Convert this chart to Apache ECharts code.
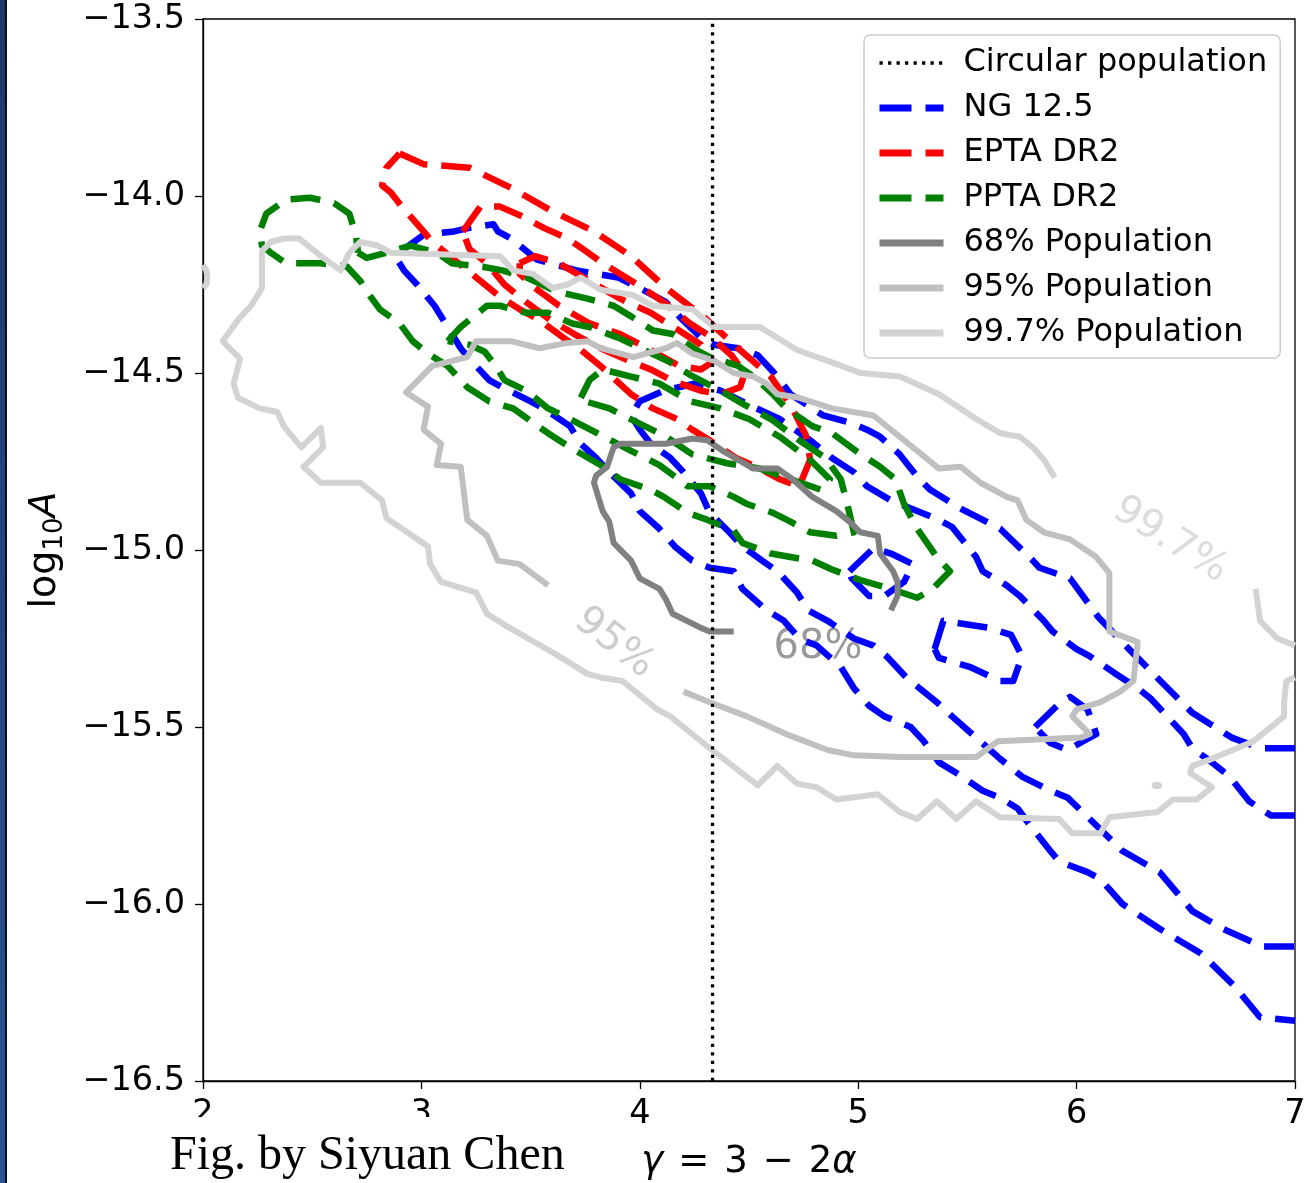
<!DOCTYPE html>
<html><head><meta charset="utf-8">
<script src="https://cdn.jsdelivr.net/npm/echarts@6/dist/echarts.min.js"></script>
<style>html,body{margin:0;padding:0;background:#fff}#chart{width:1306px;height:1183px}</style>
</head><body><div id="chart"></div>
<script>
// ---------- data (gamma, log10 A) ----------
const circularGamma = 4.333;

const ngOuter = [[7.00,-15.56],[6.84,-15.56],[6.71,-15.53],[6.53,-15.46],[6.40,-15.38],[6.24,-15.28],[6.10,-15.19],[5.97,-15.08],[5.83,-15.05],[5.80,-15.03],[5.65,-14.94],[5.46,-14.88],[5.33,-14.83],[5.28,-14.80],[5.19,-14.73],[5.10,-14.68],[5.04,-14.66],[4.96,-14.64],[4.84,-14.62],[4.79,-14.60],[4.69,-14.56],[4.63,-14.51],[4.54,-14.45],[4.45,-14.43],[4.34,-14.42],[4.28,-14.40],[4.18,-14.34],[4.12,-14.30],[4.03,-14.27],[3.90,-14.23],[3.80,-14.22],[3.71,-14.21],[3.59,-14.19],[3.53,-14.18],[3.41,-14.12],[3.35,-14.10],[3.33,-14.08],[3.22,-14.09],[3.15,-14.10],[3.01,-14.11],[2.92,-14.15],[2.89,-14.18],[2.92,-14.21],[2.98,-14.25],[3.06,-14.31],[3.10,-14.35],[3.18,-14.43],[3.22,-14.46],[3.31,-14.52],[3.37,-14.54],[3.50,-14.58],[3.56,-14.60],[3.68,-14.65],[3.73,-14.70],[3.80,-14.74],[3.86,-14.78],[3.96,-14.84],[4.00,-14.89],[4.09,-14.94],[4.16,-14.99],[4.24,-15.03],[4.32,-15.05],[4.43,-15.06],[4.47,-15.11],[4.58,-15.17],[4.66,-15.20],[4.73,-15.25],[4.81,-15.27],[4.92,-15.33],[4.98,-15.39],[5.05,-15.44],[5.12,-15.47],[5.24,-15.50],[5.30,-15.54],[5.37,-15.60],[5.45,-15.63],[5.57,-15.68],[5.65,-15.70],[5.73,-15.73],[5.79,-15.78],[5.88,-15.85],[5.92,-15.88],[6.05,-15.91],[6.11,-15.93],[6.21,-16.00],[6.38,-16.07],[6.57,-16.14],[6.72,-16.23],[6.84,-16.32],[7.00,-16.33]];
const ngInner = [[7.00,-15.75],[6.89,-15.75],[6.79,-15.71],[6.70,-15.64],[6.62,-15.60],[6.53,-15.56],[6.49,-15.52],[6.40,-15.46],[6.34,-15.42],[6.28,-15.39],[6.18,-15.35],[6.06,-15.30],[6.00,-15.28],[5.89,-15.23],[5.85,-15.20],[5.74,-15.13],[5.68,-15.10],[5.57,-15.06],[5.54,-15.02],[5.43,-14.935],[5.37,-14.915],[5.27,-14.89],[5.15,-14.86],[5.04,-14.82],[4.98,-14.78],[4.88,-14.74],[4.78,-14.69],[4.64,-14.63],[4.50,-14.59],[4.37,-14.55],[4.25,-14.53],[4.11,-14.55],[4.00,-14.58],[3.96,-14.62],[4.00,-14.66],[4.05,-14.70],[4.14,-14.74],[4.20,-14.78],[4.28,-14.84],[4.32,-14.895],[4.41,-14.95],[4.47,-14.99],[4.56,-15.03],[4.63,-15.06],[4.72,-15.12],[4.77,-15.17],[4.86,-15.20],[4.98,-15.25],[5.07,-15.27],[5.13,-15.30],[5.22,-15.36],[5.36,-15.43],[5.43,-15.47],[5.54,-15.53],[5.65,-15.59],[5.75,-15.64],[5.88,-15.68],[5.96,-15.70],[6.06,-15.76],[6.21,-15.85],[6.38,-15.91],[6.53,-16.02],[6.67,-16.07],[6.85,-16.12],[7.00,-16.12]];
const ngIslandA = [[4.96,-15.06],[5.07,-14.995],[5.15,-15.01],[5.25,-15.04],[5.21,-15.09],[5.12,-15.13],[5.05,-15.13],[4.97,-15.08]];
const ngIslandB = [[5.35,-15.28],[5.39,-15.20],[5.60,-15.22],[5.70,-15.24],[5.75,-15.30],[5.71,-15.37],[5.65,-15.37],[5.51,-15.33],[5.37,-15.305]];
const ngIslandC = [[5.81,-15.50],[5.91,-15.44],[5.97,-15.415],[6.05,-15.45],[6.09,-15.52],[6.03,-15.54],[5.96,-15.565],[5.88,-15.545]];

const eptaOuter = [[2.90,-13.88],[3.01,-13.91],[3.22,-13.92],[3.42,-13.98],[3.59,-14.04],[3.79,-14.10],[3.96,-14.17],[4.12,-14.26],[4.29,-14.34],[4.45,-14.43],[4.60,-14.51],[4.69,-14.59],[4.76,-14.675],[4.78,-14.745],[4.73,-14.82],[4.64,-14.80],[4.55,-14.77],[4.44,-14.74],[4.32,-14.69],[4.24,-14.66],[4.17,-14.63],[4.06,-14.60],[3.96,-14.56],[3.82,-14.48],[3.73,-14.435],[3.65,-14.40],[3.54,-14.35],[3.45,-14.32],[3.36,-14.285],[3.31,-14.26],[3.21,-14.21],[3.13,-14.17],[3.05,-14.13],[3.01,-14.10],[2.91,-14.03],[2.86,-13.99],[2.82,-13.97],[2.84,-13.92]];
const eptaMiddle = [[3.19,-14.10],[3.27,-14.03],[3.36,-14.03],[3.47,-14.06],[3.56,-14.09],[3.67,-14.12],[3.74,-14.15],[3.83,-14.19],[3.99,-14.25],[4.11,-14.30],[4.23,-14.36],[4.33,-14.40],[4.42,-14.45],[4.48,-14.50],[4.46,-14.54],[4.37,-14.56],[4.28,-14.55],[4.16,-14.525],[4.05,-14.49],[3.93,-14.46],[3.82,-14.43],[3.70,-14.39],[3.59,-14.35],[3.48,-14.30],[3.38,-14.25],[3.30,-14.19],[3.22,-14.15]];
const eptaInner = [[3.45,-14.19],[3.52,-14.17],[3.63,-14.19],[3.77,-14.24],[3.91,-14.29],[4.05,-14.33],[4.18,-14.38],[4.28,-14.42],[4.33,-14.47],[4.28,-14.49],[4.18,-14.48],[4.05,-14.435],[3.91,-14.39],[3.77,-14.36],[3.63,-14.31],[3.52,-14.26],[3.45,-14.22]];

const pptaOuter = [[2.71,-14.16],[2.75,-14.175],[2.87,-14.155],[2.95,-14.14],[3.07,-14.16],[3.14,-14.19],[3.28,-14.20],[3.37,-14.21],[3.48,-14.23],[3.62,-14.27],[3.76,-14.29],[3.88,-14.31],[3.96,-14.34],[4.06,-14.38],[4.15,-14.39],[4.26,-14.435],[4.32,-14.455],[4.45,-14.48],[4.52,-14.51],[4.61,-14.56],[4.67,-14.60],[4.79,-14.65],[4.88,-14.67],[4.99,-14.72],[5.10,-14.765],[5.17,-14.80],[5.21,-14.87],[5.27,-14.94],[5.36,-15.02],[5.42,-15.06],[5.34,-15.11],[5.27,-15.135],[5.15,-15.11],[5.01,-15.085],[4.88,-15.055],[4.79,-15.03],[4.69,-15.02],[4.60,-15.01],[4.47,-14.98],[4.43,-14.945],[4.31,-14.915],[4.22,-14.895],[4.11,-14.85],[4.05,-14.83],[3.91,-14.80],[3.82,-14.76],[3.68,-14.71],[3.58,-14.67],[3.51,-14.64],[3.42,-14.60],[3.31,-14.58],[3.21,-14.54],[3.12,-14.48],[3.03,-14.445],[2.96,-14.41],[2.90,-14.36],[2.81,-14.32],[2.75,-14.27],[2.72,-14.24],[2.66,-14.20],[2.54,-14.19],[2.38,-14.19],[2.31,-14.16],[2.27,-14.14],[2.26,-14.10],[2.29,-14.05],[2.38,-14.01],[2.49,-14.005],[2.60,-14.02],[2.67,-14.05],[2.70,-14.11]];
const pptaMiddle = [[3.12,-14.41],[3.18,-14.37],[3.24,-14.34],[3.30,-14.31],[3.36,-14.31],[3.48,-14.33],[3.58,-14.33],[3.69,-14.36],[3.77,-14.37],[3.90,-14.40],[4.02,-14.435],[4.14,-14.47],[4.23,-14.505],[4.37,-14.55],[4.48,-14.59],[4.60,-14.63],[4.73,-14.69],[4.85,-14.74],[4.92,-14.80],[4.95,-14.87],[4.98,-14.95],[4.90,-14.96],[4.78,-14.95],[4.69,-14.92],[4.61,-14.895],[4.49,-14.87],[4.43,-14.85],[4.32,-14.82],[4.22,-14.82],[4.09,-14.76],[3.96,-14.72],[3.82,-14.675],[3.68,-14.63],[3.58,-14.60],[3.48,-14.55],[3.38,-14.52],[3.34,-14.48],[3.29,-14.44],[3.22,-14.42]];
const pptaInner = [[3.73,-14.57],[3.77,-14.52],[3.83,-14.49],[3.96,-14.51],[4.09,-14.53],[4.23,-14.58],[4.37,-14.60],[4.50,-14.63],[4.64,-14.68],[4.78,-14.745],[4.87,-14.80],[4.83,-14.83],[4.69,-14.80],[4.55,-14.77],[4.40,-14.755],[4.24,-14.73],[4.12,-14.68],[3.99,-14.64],[3.86,-14.60],[3.75,-14.58]];

const pop68 = [[4.43,-15.23],[4.32,-15.23],[4.28,-15.22],[4.15,-15.18],[4.12,-15.14],[4.09,-15.11],[4.00,-15.08],[3.96,-15.03],[3.88,-14.98],[3.86,-14.92],[3.83,-14.89],[3.79,-14.81],[3.80,-14.79],[3.85,-14.765],[3.88,-14.71],[3.91,-14.70],[4.00,-14.70],[4.12,-14.70],[4.24,-14.685],[4.31,-14.69],[4.38,-14.72],[4.45,-14.745],[4.52,-14.77],[4.63,-14.77],[4.70,-14.80],[4.79,-14.85],[4.90,-14.89],[4.96,-14.92],[5.01,-14.95],[5.09,-14.96],[5.10,-15.01],[5.16,-15.06],[5.18,-15.09],[5.18,-15.13],[5.15,-15.17]];
const pop95 = [[3.58,-15.10],[3.45,-15.04],[3.35,-15.03],[3.30,-14.96],[3.21,-14.915],[3.18,-14.765],[3.07,-14.76],[3.09,-14.70],[3.01,-14.66],[3.03,-14.595],[2.93,-14.555],[3.05,-14.48],[3.21,-14.455],[3.25,-14.41],[3.41,-14.41],[3.54,-14.43],[3.67,-14.415],[3.76,-14.41],[3.82,-14.43],[3.97,-14.455],[4.12,-14.43],[4.17,-14.415],[4.24,-14.445],[4.34,-14.465],[4.43,-14.50],[4.52,-14.51],[4.58,-14.53],[4.63,-14.56],[4.73,-14.57],[4.88,-14.60],[5.07,-14.62],[5.19,-14.68],[5.28,-14.725],[5.37,-14.77],[5.47,-14.765],[5.56,-14.81],[5.68,-14.85],[5.73,-14.86],[5.77,-14.915],[5.85,-14.95],[5.97,-14.97],[6.09,-15.02],[6.15,-15.065],[6.15,-15.23],[6.28,-15.26],[6.26,-15.37],[6.20,-15.40],[6.11,-15.43],[6.00,-15.45],[5.98,-15.47],[6.06,-15.52],[6.02,-15.53],[5.64,-15.54],[5.54,-15.585],[5.19,-15.585],[4.98,-15.58],[4.86,-15.565],[4.67,-15.52],[4.49,-15.47],[4.32,-15.43],[4.20,-15.40]];
const pop997Main = [[5.90,-14.795],[5.85,-14.745],[5.80,-14.71],[5.74,-14.68],[5.65,-14.67],[5.54,-14.63],[5.37,-14.56],[5.19,-14.51],[5.01,-14.50],[4.88,-14.47],[4.72,-14.435],[4.55,-14.37],[4.34,-14.37],[4.24,-14.32],[4.06,-14.31],[3.97,-14.28],[3.82,-14.265],[3.73,-14.23],[3.67,-14.25],[3.60,-14.26],[3.51,-14.22],[3.42,-14.21],[3.36,-14.17],[2.86,-14.16],[2.80,-14.14],[2.72,-14.13],[2.67,-14.16],[2.63,-14.21],[2.54,-14.17],[2.44,-14.12],[2.37,-14.12],[2.31,-14.13],[2.27,-14.155],[2.27,-14.26],[2.22,-14.31],[2.16,-14.35],[2.09,-14.41],[2.17,-14.46],[2.14,-14.53],[2.16,-14.57],[2.26,-14.60],[2.34,-14.61],[2.37,-14.65],[2.45,-14.71],[2.54,-14.655],[2.55,-14.71],[2.46,-14.765],[2.54,-14.81],[2.72,-14.81],[2.82,-14.86],[2.84,-14.91],[2.90,-14.935],[3.03,-14.99],[3.04,-15.04],[3.09,-15.09],[3.25,-15.12],[3.30,-15.18],[3.39,-15.215],[3.63,-15.30],[3.76,-15.35],[3.82,-15.36],[3.92,-15.37],[4.08,-15.45],[4.14,-15.47],[4.32,-15.56],[4.54,-15.665],[4.63,-15.61],[4.72,-15.66],[4.81,-15.67],[4.90,-15.705],[5.09,-15.69],[5.19,-15.74],[5.27,-15.76],[5.36,-15.71],[5.45,-15.76],[5.54,-15.71],[5.65,-15.755],[5.92,-15.76],[5.98,-15.80],[6.11,-15.80],[6.15,-15.755],[6.37,-15.74],[6.44,-15.705],[6.55,-15.705],[6.62,-15.67],[6.52,-15.63],[6.53,-15.61],[6.62,-15.59],[6.81,-15.54],[6.95,-15.47],[6.95,-15.43],[6.96,-15.37],[7.00,-15.36]];
const pop997Right = [[6.82,-15.11],[6.84,-15.20],[6.92,-15.25],[7.00,-15.27]];
const pop997Edge = [[2.00,-14.195],[2.015,-14.21],[2.02,-14.23],[2.015,-14.25],[2.00,-14.26]];
const pop997Dot = [[6.36,-15.665],[6.375,-15.665]];

const contourLabelText = ['68%', '95%', '99.7%'];
const contourLabelPos = [[4.816,-15.277],[3.882,-15.263],[6.428,-14.972]];

const legendNames = ['Circular population','NG 12.5','EPTA DR2','PPTA DR2','68% Population','95% Population','99.7% Population'];
const xTickValues = [2,3,4,5,6,7];
const yTickValues = [-16.5,-16.0,-15.5,-15.0,-14.5,-14.0,-13.5];

// ---------- styling ----------
const FONT = 'DejaVu Sans';
const DASH = [30, 14];
const DOT = [3.3, 5.2];
const closed = a => a.concat([a[0]]);

function contour(name, data, color, dashed, width) {
  return {
    type: 'line', name, data, symbol: 'none', showSymbol: false, silent: true,
    animation: false, emphasis: { disabled: true },
    lineStyle: { color, width, type: dashed ? DASH : 'solid', cap: 'butt', join: 'round' },
    itemStyle: { color }
  };
}

const BLUE = '#0000ff', RED = '#ff0000', GREEN = '#008000';
const G68 = '#808080', G95 = '#c0c0c0', G997 = '#d3d3d3';
const WD = 6.5, WG = 6;

const dotSeries = contour('99.7% Population', pop997Dot, G997, false, 7);
dotSeries.lineStyle.cap = 'round';

const series = [
  contour('NG 12.5', ngOuter, BLUE, true, WD),
  contour('NG 12.5', ngInner, BLUE, true, WD),
  contour('NG 12.5', closed(ngIslandA), BLUE, true, WD),
  contour('NG 12.5', closed(ngIslandB), BLUE, true, WD),
  contour('NG 12.5', closed(ngIslandC), BLUE, true, WD),
  contour('EPTA DR2', closed(eptaOuter), RED, true, WD),
  contour('EPTA DR2', closed(eptaMiddle), RED, true, WD),
  contour('EPTA DR2', closed(eptaInner), RED, true, WD),
  contour('PPTA DR2', closed(pptaOuter), GREEN, true, WD),
  contour('PPTA DR2', closed(pptaMiddle), GREEN, true, WD),
  contour('PPTA DR2', closed(pptaInner), GREEN, true, WD),
  contour('68% Population', pop68, G68, false, WG),
  contour('95% Population', pop95, G95, false, WG),
  contour('99.7% Population', pop997Main, G997, false, WG),
  contour('99.7% Population', pop997Right, G997, false, WG),
  contour('99.7% Population', pop997Edge, G997, false, WG),
  dotSeries,
  {
    type: 'scatter', name: 'labels', silent: true, animation: false,
    symbol: 'circle', symbolSize: 1, itemStyle: { color: 'rgba(0,0,0,0)' },
    label: { show: true, position: 'inside', fontFamily: FONT, fontSize: 40 },
    data: contourLabelPos.map((p, i) => ({
      value: p,
      label: {
        formatter: contourLabelText[i],
        color: [G68, G95, G997][i],
        rotate: [0, -38, -32][i]
      }
    }))
  },
  {
    type: 'line', name: 'Circular population', symbol: 'none', silent: true, animation: false,
    data: [[circularGamma, -16.5], [circularGamma, -13.5]],
    lineStyle: { color: '#000', width: 3.3, type: DOT, cap: 'butt' },
    itemStyle: { color: '#000' }
  }
];

const legendLine = {
  'Circular population': { color: '#000', width: 3.3, type: DOT },
  'NG 12.5': { color: BLUE, width: 7, type: [32, 14] },
  'EPTA DR2': { color: RED, width: 7, type: [32, 14] },
  'PPTA DR2': { color: GREEN, width: 7, type: [32, 14] },
  '68% Population': { color: G68, width: 7, type: 'solid' },
  '95% Population': { color: G95, width: 7, type: 'solid' },
  '99.7% Population': { color: G997, width: 7, type: 'solid' }
};

const chart = echarts.init(document.getElementById('chart'), null, { renderer: 'canvas' });
chart.setOption({
  animation: false,
  backgroundColor: '#ffffff',
  textStyle: { fontFamily: FONT },
  grid: { left: 203, right: 11, top: 19, bottom: 102, containLabel: false, outerBoundsMode: 'none',
          show: true, borderColor: '#000', borderWidth: 1.3, backgroundColor: 'transparent' },
  legend: {
    orient: 'vertical', left: 864, top: 35,
    data: legendNames.map(n => ({
      name: n,
      itemStyle: { opacity: 0, borderWidth: 0 },
      lineStyle: Object.assign({ cap: 'butt' }, legendLine[n])
    })),
    itemWidth: 64, itemHeight: 14, itemGap: 9,
    itemStyle: { opacity: 0, borderWidth: 0 },
    padding: [10, 13, 7, 12],
    backgroundColor: 'rgba(255,255,255,0.8)', borderColor: '#cccccc', borderWidth: 1.5, borderRadius: 6,
    selectedMode: false,
    textStyle: { fontFamily: FONT, fontSize: 32, color: '#000', lineHeight: 36, padding: [0, 0, 0, 15] }
  },
  xAxis: {
    type: 'value', min: 2, max: 7, interval: 1,
    axisLine: { show: true, onZero: false, lineStyle: { color: '#000', width: 1.3 } },
    axisTick: { show: true, length: 8, lineStyle: { color: '#000', width: 1.3 } },
    splitLine: { show: false },
    axisLabel: { fontFamily: FONT, fontSize: 33.5, color: '#000', margin: 16,
                 formatter: v => xTickValues.includes(v) ? String(v) : '' },
    name: '{i|γ}{o|=}{n|3}{o|\u2212}{n|2}{i|α}',
    nameLocation: 'middle', nameGap: 63,
    nameTextStyle: {
      rich: {
        i: { fontFamily: FONT, fontSize: 37, fontStyle: 'italic', color: '#000' },
        n: { fontFamily: FONT, fontSize: 37, color: '#000' },
        o: { fontFamily: FONT, fontSize: 37, color: '#000', padding: [0, 15, 0, 15] }
      }
    }
  },
  yAxis: {
    type: 'value', min: -16.5, max: -13.5, interval: 0.5,
    axisLine: { show: true, onZero: false, lineStyle: { color: '#000', width: 1.3 } },
    axisTick: { show: true, length: 8, lineStyle: { color: '#000', width: 1.3 } },
    splitLine: { show: false },
    axisLabel: { fontFamily: FONT, fontSize: 33.5, color: '#000', margin: 18,
                 formatter: v => yTickValues.some(t => Math.abs(t - v) < 1e-9) ? ((v < 0 ? '\u2212' : '') + Math.abs(v).toFixed(1)) : '' },
    name: '{a|log}{s|10}{b|A}',
    nameLocation: 'middle', nameRotate: 90, nameGap: 135,
    nameTextStyle: {
      rich: {
        a: { fontFamily: FONT, fontSize: 38, color: '#000', lineHeight: 46 },
        s: { fontFamily: FONT, fontSize: 26, color: '#000', lineHeight: 26, verticalAlign: 'bottom' },
        b: { fontFamily: FONT, fontSize: 38, fontStyle: 'italic', color: '#000', lineHeight: 46 }
      }
    }
  },
  series,
  graphic: [
    { type: 'rect', left: 0, top: 0, z: 100, silent: true,
      shape: { width: 6, height: 1183 },
      style: { fill: new echarts.graphic.LinearGradient(0, 0, 0, 1, [{ offset: 0, color: '#1d3768' }, { offset: 1, color: '#2c5293' }]) } },
    { type: 'rect', left: 5, top: 0, z: 101, silent: true, shape: { width: 2, height: 1183 }, style: { fill: '#0c1020' } },
    { type: 'rect', left: 8, top: 1117, z: 100, silent: true, shape: { width: 582, height: 66 }, style: { fill: '#ffffff' } },
    { type: 'text', left: 170, top: 1132, z: 102, silent: true,
      style: { text: 'Fig. by Siyuan Chen', fontFamily: 'Liberation Serif', fontSize: 48, fill: '#000' } }
  ]
});
</script></body></html>
